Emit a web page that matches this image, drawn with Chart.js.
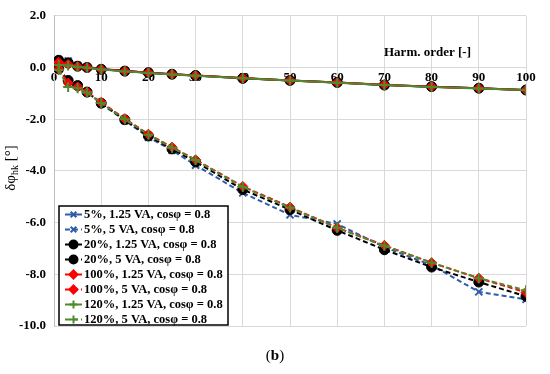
<!DOCTYPE html>
<html>
<head>
<meta charset="utf-8">
<script src="https://cdn.jsdelivr.net/npm/chart.js@4.4.1/dist/chart.umd.min.js"></script>
<style>
  html, body { margin: 0; padding: 0; background: #fff; }
  #wrap { width: 550px; height: 374px; }
</style>
</head>
<body>
<div id="wrap"><canvas id="graph" width="550" height="374"></canvas></div>
<script>
// ordres harmoniques
var harmOrders = [1, 3, 5, 7, 10, 15, 20, 25, 30, 40, 50, 60, 70, 80, 90, 100];

// 1.25 VA (traits pleins)
var s5_125   = [0.30, 0.25, 0.08, 0.02, -0.06, -0.13, -0.20, -0.26, -0.31, -0.42, -0.50, -0.58, -0.68, -0.74, -0.80, -0.88];
var s20_125  = [0.28, 0.18, 0.05, 0.00, -0.07, -0.14, -0.20, -0.26, -0.31, -0.42, -0.50, -0.58, -0.68, -0.74, -0.80, -0.87];
var s100_125 = [0.20, 0.12, 0.04, 0.00, -0.07, -0.14, -0.20, -0.26, -0.31, -0.41, -0.50, -0.58, -0.67, -0.74, -0.80, -0.87];
var s120_125 = [0.10, 0.08, 0.02, -0.01, -0.08, -0.15, -0.21, -0.27, -0.32, -0.42, -0.50, -0.59, -0.68, -0.75, -0.81, -0.87];

// 5 VA (pointillés)
var s5_5   = [-0.05, -0.55, -0.70, -0.95, -1.40, -2.05, -2.70, -3.20, -3.78, -4.85, -5.70, -6.05, -6.95, -7.65, -8.68, -8.97];
var s20_5  = [-0.05, -0.50, -0.70, -0.95, -1.38, -2.02, -2.65, -3.15, -3.65, -4.72, -5.50, -6.30, -7.05, -7.72, -8.30, -8.85];
var s100_5 = [-0.05, -0.60, -0.75, -0.95, -1.35, -1.98, -2.58, -3.08, -3.57, -4.60, -5.40, -6.20, -6.88, -7.55, -8.15, -8.70];
var s120_5 = [-0.10, -0.75, -0.80, -0.97, -1.37, -2.00, -2.60, -3.10, -3.58, -4.62, -5.42, -6.20, -6.90, -7.55, -8.15, -8.62];

var legendLabels = [
    '5%, 1.25 VA, cosφ = 0.8', '5%, 5 VA, cosφ = 0.8',
    '20%, 1.25 VA, cosφ = 0.8', '20%, 5 VA, cosφ = 0.8',
    '100%, 1.25 VA, cosφ = 0.8', '100%, 5 VA, cosφ = 0.8',
    '120%, 1.25 VA, cosφ = 0.8', '120%, 5 VA, cosφ = 0.8'
];
var yTicks = [2, 0, -2, -4, -6, -8, -10];

var BLUE = '#2f5ca8', BLACK = '#000000', RED = '#ff0000', GREEN = '#4f8a2c';
var SERIF = '"Liberation Serif", "Times New Roman", serif';

function pts(arr) {
    return harmOrders.map(function (h, i) { return { x: h, y: arr[i] }; });
}

function serie(label, data, color, style, dashed, ordre) {
    return {
        label: label,
        data: pts(data),
        borderColor: color,
        backgroundColor: color,
        borderWidth: 2,
        borderDash: dashed ? [5, 3] : [],
        pointStyle: style,
        pointRadius: style === 'circle' ? 5 : 5,
        pointBorderWidth: style === 'circle' || style === 'rectRot' ? 1 : 2,
        pointBorderColor: color,
        pointBackgroundColor: color,
        tension: 0,
        order: ordre
    };
}

var datasets = [
    serie(legendLabels[0], s5_125, BLUE, 'crossRot', false, 3),
    serie(legendLabels[1], s5_5, BLUE, 'crossRot', true, 3),
    serie(legendLabels[2], s20_125, BLACK, 'circle', false, 2),
    serie(legendLabels[3], s20_5, BLACK, 'circle', true, 2),
    serie(legendLabels[4], s100_125, RED, 'rectRot', false, 1),
    serie(legendLabels[5], s100_5, RED, 'rectRot', true, 1),
    serie(legendLabels[6], s120_125, GREEN, 'cross', false, 0),
    serie(legendLabels[7], s120_5, GREEN, 'cross', true, 0)
];

// Textes + légende dessinés sur le canvas
var decorPlugin = {
    id: 'decor',
    afterDraw: function (chart) {
        var ctx = chart.ctx;
        ctx.save();

        // titre axe Y
        ctx.translate(11, 168);
        ctx.rotate(-Math.PI / 2);
        ctx.fillStyle = '#000';
        ctx.textBaseline = 'middle';
        ctx.font = '15px ' + SERIF;
        var t1 = 'δφ', t2 = 'hk', t3 = ' [°]';
        var w1 = ctx.measureText(t1).width;
        ctx.font = '10px ' + SERIF;
        var w2 = ctx.measureText(t2).width;
        ctx.font = '15px ' + SERIF;
        var w3 = ctx.measureText(t3).width;
        var x0 = -(w1 + w2 + w3) / 2;
        ctx.textAlign = 'left';
        ctx.fillText(t1, x0, 0);
        ctx.font = '10px ' + SERIF;
        ctx.fillText(t2, x0 + w1, 4);
        ctx.font = '15px ' + SERIF;
        ctx.fillText(t3, x0 + w1 + w2, 0);
        ctx.restore();

        // titre axe X
        ctx.save();
        ctx.fillStyle = '#000';
        ctx.font = 'bold 13px ' + SERIF;
        ctx.textAlign = 'left';
        ctx.textBaseline = 'middle';
        ctx.fillText('Harm. order [-]', 384, 53);

        // (b)
        ctx.font = '15px ' + SERIF;
        var wp = ctx.measureText('(').width;
        ctx.font = 'bold 15px ' + SERIF;
        var wb = ctx.measureText('b').width;
        var cx = 275, cy = 356;
        ctx.textAlign = 'left';
        ctx.font = '15px ' + SERIF;
        ctx.fillText('(', cx - wb / 2 - wp, cy);
        ctx.fillText(')', cx + wb / 2, cy);
        ctx.font = 'bold 15px ' + SERIF;
        ctx.fillText('b', cx - wb / 2, cy);

        // légende
        var bx = 59, by = 206, bw = 169, bh = 119;
        ctx.fillStyle = '#fff';
        ctx.fillRect(bx, by, bw, bh);
        ctx.strokeStyle = '#000';
        ctx.lineWidth = 1.5;
        ctx.setLineDash([]);
        ctx.strokeRect(bx, by, bw, bh);

        chart.data.datasets.forEach(function (ds, i) {
            var y = by + 8.5 + i * 15;
            ctx.strokeStyle = ds.borderColor;
            ctx.lineWidth = 2;
            ctx.setLineDash(ds.borderDash);
            ctx.beginPath();
            ctx.moveTo(65, y);
            ctx.lineTo(82, y);
            ctx.stroke();
            ctx.setLineDash([]);
            ctx.fillStyle = ds.pointBackgroundColor;
            ctx.strokeStyle = ds.pointBorderColor;
            Chart.helpers.drawPoint(ctx, {
                pointStyle: ds.pointStyle,
                radius: ds.pointRadius - 1,
                borderWidth: ds.pointBorderWidth
            }, 73.5, y);
            ctx.fillStyle = '#000';
            ctx.font = 'bold 12.5px ' + SERIF;
            ctx.textAlign = 'left';
            ctx.textBaseline = 'middle';
            ctx.fillText(ds.label, 84, y + 0.5);
        });
        ctx.restore();
    }
};

var ctxGraph = document.getElementById('graph').getContext('2d');
var graphique = new Chart(ctxGraph, {
    type: 'line',
    data: { datasets: datasets },
    options: {
        responsive: false,
        animation: false,
        layout: { padding: { left: 0, right: 24, top: 12, bottom: 48 } },
        plugins: {
            legend: { display: false },
            tooltip: { enabled: false }
        },
        scales: {
            x: {
                type: 'linear',
                min: 0,
                max: 100,
                position: { y: 0 },
                grid: { color: '#d9d9d9', lineWidth: 1, drawTicks: false },
                border: { color: '#d9d9d9', width: 1 },
                ticks: {
                    stepSize: 10,
                    padding: 2,
                    maxRotation: 0,
                    color: '#000',
                    font: { family: SERIF, size: 13, weight: 'bold' }
                }
            },
            y: {
                type: 'linear',
                min: -10,
                max: 2,
                afterFit: function (scale) { scale.width = 54; },
                afterBuildTicks: function (scale) {
                    scale.ticks = yTicks.map(function (v) { return { value: v }; });
                },
                grid: { color: '#d9d9d9', lineWidth: 1, drawTicks: false },
                border: { color: '#bfbfbf', width: 1 },
                ticks: {
                    padding: 8,
                    color: '#000',
                    font: { family: SERIF, size: 13, weight: 'bold' },
                    callback: function (v) { return v.toFixed(1); }
                }
            }
        }
    },
    plugins: [decorPlugin]
});
</script>
</body>
</html>
